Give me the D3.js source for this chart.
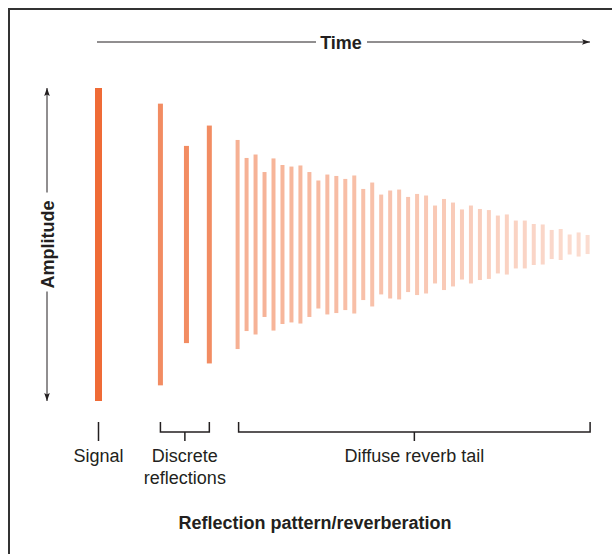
<!DOCTYPE html>
<html>
<head>
<meta charset="utf-8">
<script src="https://cdn.jsdelivr.net/npm/d3@7"></script>
<style>
  html, body { margin: 0; padding: 0; background: #fff; }
  svg { display: block; }
  text { font-family: "Liberation Sans", Arial, Helvetica, sans-serif; fill: #231f20; }
</style>
</head>
<body>
<svg id="chart" width="612" height="554"></svg>
<script>
// ---- data (time in ms, amplitude relative to direct signal) ----
const signalTime = [0];
const signalAmp = [1.0];

const reflectionTimes = [13.8, 19.6, 24.7];
const reflectionAmps = [0.90, 0.63, 0.76];

const tailTimes = [31, 33, 35, 37, 39, 41, 43, 45, 47, 49,
                   51, 53, 55, 57, 59, 61, 63, 65, 67, 69,
                   71, 73, 75, 77, 79, 81, 83, 85, 87, 89,
                   91, 93, 95, 97, 99, 101, 103, 105, 107, 109];
const tailAmps = [0.668, 0.553, 0.575, 0.463, 0.550, 0.508, 0.498, 0.505, 0.463, 0.409,
                  0.447, 0.438, 0.419, 0.441, 0.355, 0.396, 0.319, 0.345, 0.351, 0.304,
                  0.323, 0.313, 0.249, 0.291, 0.268, 0.224, 0.249, 0.227, 0.220, 0.185,
                  0.192, 0.153, 0.153, 0.131, 0.128, 0.093, 0.099, 0.064, 0.077, 0.061];

const groupLabels = ["Signal", "Discrete\nreflections", "Diffuse reverb tail"];
const axisLabels = { time: "Time", amplitude: "Amplitude" };
const chartTitle = "Reflection pattern/reverberation";

// ---- scales ----
const svg = d3.select("#chart");
const x = d3.scaleLinear().domain([0, 109]).range([98.5, 587.6]);
const y = d3.scaleLinear().domain([-1, 1]).range([401, 88]);

const ink = "#231f20";

// frame
svg.append("rect")
  .attr("x", 9).attr("y", 9)
  .attr("width", 620).attr("height", 560)
  .attr("fill", "none").attr("stroke", "#333").attr("stroke-width", 2);

// arrow marker
const defs = svg.append("defs");
defs.append("marker")
  .attr("id", "arrow")
  .attr("viewBox", "0 0 10 10")
  .attr("refX", 10).attr("refY", 5)
  .attr("markerWidth", 8).attr("markerHeight", 8)
  .attr("markerUnits", "userSpaceOnUse")
  .attr("orient", "auto")
  .append("path").attr("d", "M0,1.5 L10,5 L0,8.5 L2,5 Z").attr("fill", ink);

// ---- bars ----
function drawBars(times, amps, width, colorFn) {
  svg.append("g").selectAll("rect")
    .data(times.map((t, i) => ({ t, a: amps[i], i })))
    .join("rect")
    .attr("x", d => x(d.t) - width / 2)
    .attr("width", width)
    .attr("y", d => y(d.a))
    .attr("height", d => y(-d.a) - y(d.a))
    .attr("fill", d => colorFn(d));
}
drawBars(signalTime, signalAmp, 7, () => "#ef6b36");
drawBars(reflectionTimes, reflectionAmps, 5, () => "#f28c62");
const tailColor = d3.interpolateRgb("#f6b093", "#fbdcd0");
drawBars(tailTimes, tailAmps, 4, d => tailColor(d.i / (tailTimes.length - 1)));

// ---- Time axis arrow ----
const timeY = 42;
const timeCenter = 341;
svg.append("line")
  .attr("x1", 97).attr("x2", timeCenter - 25)
  .attr("y1", timeY).attr("y2", timeY)
  .attr("stroke", ink).attr("stroke-width", 1);
svg.append("line")
  .attr("x1", timeCenter + 26).attr("x2", 590)
  .attr("y1", timeY).attr("y2", timeY)
  .attr("stroke", ink).attr("stroke-width", 1)
  .attr("marker-end", "url(#arrow)");
svg.append("text")
  .attr("x", timeCenter).attr("y", timeY + 7)
  .attr("text-anchor", "middle")
  .attr("font-size", 18).attr("font-weight", "bold")
  .text(axisLabels.time);

// ---- Amplitude arrow ----
const ampX = 47;
const ampMid = 244.5;
svg.append("line")
  .attr("x1", ampX).attr("x2", ampX)
  .attr("y1", ampMid - 52).attr("y2", y(1))
  .attr("stroke", ink).attr("stroke-width", 1)
  .attr("marker-end", "url(#arrow)");
svg.append("line")
  .attr("x1", ampX).attr("x2", ampX)
  .attr("y1", ampMid + 47).attr("y2", y(-1))
  .attr("stroke", ink).attr("stroke-width", 1)
  .attr("marker-end", "url(#arrow)");
svg.append("text")
  .attr("transform", `translate(${ampX + 6.5},${ampMid}) rotate(-90)`)
  .attr("text-anchor", "middle")
  .attr("font-size", 18).attr("font-weight", "bold")
  .text(axisLabels.amplitude);

// ---- brackets ----
const bTop = 422, bMid = 432, bBot = 441;
const br = svg.append("g").attr("fill", "none").attr("stroke", ink).attr("stroke-width", 1.5);
// signal tick
br.append("line").attr("x1", x(signalTime[0])).attr("x2", x(signalTime[0]))
  .attr("y1", bTop).attr("y2", bBot);
function bracket(x0, x1) {
  br.append("path").attr("d", `M${x0},${bTop} V${bMid} H${x1} V${bTop}`);
  const xm = (x0 + x1) / 2;
  br.append("line").attr("x1", xm).attr("x2", xm).attr("y1", bMid).attr("y2", bBot);
  return xm;
}
const discMid = bracket(x(reflectionTimes[0]), x(reflectionTimes[reflectionTimes.length - 1]));
const tailMid = bracket(x(tailTimes[0]) + 1, x(tailTimes[tailTimes.length - 1]) + 2.5);

// ---- labels ----
function label(xp, lines) {
  const t = svg.append("text").attr("text-anchor", "middle").attr("font-size", 18);
  lines.forEach((s, i) => {
    t.append("tspan").attr("x", xp).attr("y", 462 + i * 22).text(s);
  });
}
label(x(signalTime[0]), groupLabels[0].split("\n"));
label(discMid, groupLabels[1].split("\n"));
label(tailMid, groupLabels[2].split("\n"));

svg.append("text")
  .attr("x", 315).attr("y", 529)
  .attr("text-anchor", "middle")
  .attr("font-size", 18).attr("font-weight", "bold")
  .text(chartTitle);
</script>
</body>
</html>
